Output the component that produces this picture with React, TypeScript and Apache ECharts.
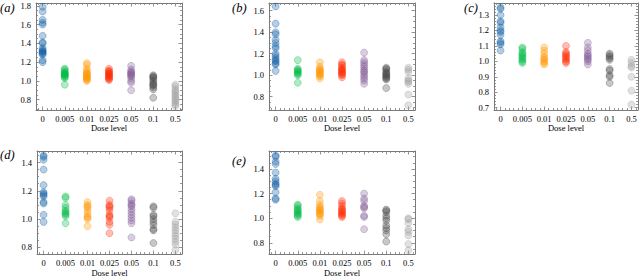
import React, { useEffect, useRef } from "react";
import * as echarts from "echarts";

const CATS = ["0", "0.005", "0.01", "0.025", "0.05", "0.1", "0.5"];
const COLORS = ["#0C5DA5", "#00B945", "#FF9500", "#FF2C00", "#845B97", "#474747", "#9e9e9e"];
const PANEL_LABELS = ["(a)", "(b)", "(c)", "(d)", "(e)"];

// panel (a)
const A0 = [1.79, 1.74, 1.65, 1.62, 1.60, 1.48, 1.41, 1.40, 1.35, 1.33, 1.32, 1.31, 1.30, 1.29, 1.28, 1.22, 1.20];
const A1 = [1.13, 1.12, 1.10, 1.09, 1.08, 1.07, 1.07, 1.06, 1.05, 1.04, 1.03, 0.96];
const A2 = [1.19, 1.17, 1.13, 1.11, 1.09, 1.08, 1.07, 1.06, 1.05, 1.04, 1.03, 1.02, 1.01, 1.00];
const A3 = [1.13, 1.11, 1.10, 1.09, 1.08, 1.07, 1.06, 1.05, 1.04, 1.03, 1.02, 1.01];
const A4 = [1.16, 1.12, 1.10, 1.09, 1.08, 1.07, 1.06, 1.05, 1.03, 1.00, 0.98, 0.90];
const A5 = [1.06, 1.05, 1.04, 1.03, 1.01, 0.99, 0.97, 0.96, 0.95, 0.93, 0.91, 0.82];
const A6 = [0.96, 0.94, 0.91, 0.89, 0.87, 0.85, 0.83, 0.81, 0.79, 0.77, 0.75, 0.73];
// panel (b)
const B0 = [1.64, 1.48, 1.40, 1.38, 1.33, 1.30, 1.27, 1.25, 1.20, 1.18, 1.16, 1.14, 1.13, 1.11, 1.10, 1.04];
const B1 = [1.14, 1.06, 1.05, 1.04, 1.03, 1.02, 1.01, 1.00, 0.93];
const B2 = [1.12, 1.08, 1.06, 1.05, 1.04, 1.03, 1.02, 1.01, 1.00, 0.99, 0.97];
const B3 = [1.12, 1.10, 1.09, 1.07, 1.06, 1.05, 1.04, 1.03, 1.02, 1.01, 1.00, 0.98];
const B4 = [1.21, 1.14, 1.12, 1.10, 1.08, 1.06, 1.04, 1.03, 1.01, 0.99, 0.97, 0.95, 0.92];
const B5 = [1.07, 1.06, 1.05, 1.03, 1.02, 1.01, 1.00, 0.99, 0.98, 0.97, 0.96, 0.88];
const B6 = [1.07, 1.05, 1.03, 0.97, 0.95, 0.94, 0.92, 0.82, 0.72];
// panel (c)
const C0 = [1.35, 1.34, 1.30, 1.26, 1.25, 1.22, 1.20, 1.19, 1.17, 1.13, 1.12, 1.11, 1.07];
const C1 = [1.09, 1.08, 1.06, 1.05, 1.04, 1.03, 1.02, 1.01, 1.00, 0.99];
const C2 = [1.09, 1.07, 1.05, 1.03, 1.02, 1.01, 1.00, 0.99, 0.98];
const C3 = [1.10, 1.06, 1.05, 1.04, 1.03, 1.02, 1.01, 1.00, 0.99];
const C4 = [1.12, 1.09, 1.07, 1.05, 1.04, 1.03, 1.02, 1.01, 1.00, 0.98];
const C5 = [1.05, 1.04, 1.03, 1.02, 1.01, 0.95, 0.94, 0.91, 0.90, 0.86];
const C6 = [1.01, 0.99, 0.97, 0.96, 0.90, 0.81, 0.72];
// panel (d)
const D0 = [1.45, 1.44, 1.42, 1.35, 1.24, 1.19, 1.18, 1.17, 1.16, 1.12, 1.11, 1.03, 0.98];
const D1 = [1.16, 1.15, 1.10, 1.08, 1.06, 1.05, 1.04, 1.03, 1.02, 0.97];
const D2 = [1.12, 1.10, 1.09, 1.08, 1.06, 1.04, 1.02, 1.01, 1.00, 0.95];
const D3 = [1.13, 1.10, 1.09, 1.08, 1.06, 1.03, 1.02, 1.01, 0.98, 0.96, 0.90];
const D4 = [1.14, 1.13, 1.11, 1.10, 1.09, 1.07, 1.05, 1.03, 1.01, 0.99, 0.97, 0.87];
const D5 = [1.09, 1.08, 1.03, 1.02, 1.00, 0.98, 0.96, 0.93, 0.92, 0.83];
const D6 = [1.04, 0.98, 0.96, 0.94, 0.92, 0.90, 0.88, 0.86, 0.84, 0.82, 0.78];
// panel (e)
const E0 = [1.51, 1.50, 1.46, 1.44, 1.37, 1.32, 1.30, 1.28, 1.27, 1.26, 1.21, 1.16, 1.15];
const E1 = [1.11, 1.10, 1.08, 1.07, 1.06, 1.05, 1.04, 1.03, 1.02, 1.01];
const E2 = [1.19, 1.14, 1.11, 1.09, 1.08, 1.07, 1.06, 1.05, 1.04, 1.03, 1.02, 0.99];
const E3 = [1.14, 1.12, 1.10, 1.08, 1.07, 1.06, 1.05, 1.04, 1.03, 1.02, 1.01];
const E4 = [1.20, 1.16, 1.14, 1.10, 1.09, 1.08, 1.02, 1.01, 0.91];
const E5 = [1.07, 1.06, 1.05, 1.02, 1.00, 0.98, 0.94, 0.92, 0.90, 0.87, 0.81];
const E6 = [1.00, 0.99, 0.96, 0.91, 0.89, 0.86, 0.79, 0.74];

const PANEL_DATA = [
  [A0, A1, A2, A3, A4, A5, A6],
  [B0, B1, B2, B3, B4, B5, B6],
  [C0, C1, C2, C3, C4, C5, C6],
  [D0, D1, D2, D3, D4, D5, D6],
  [E0, E1, E2, E3, E4, E5, E6],
];

const Y_TICKS_A = [0.8, 1.0, 1.2, 1.4, 1.6, 1.8];
const Y_TICKS_B = [0.8, 1.0, 1.2, 1.4, 1.6];
const Y_TICKS_C = [0.7, 0.8, 0.9, 1.0, 1.1, 1.2, 1.3];
const Y_TICKS_D = [0.8, 1.0, 1.2, 1.4];
const Y_TICKS_E = [0.8, 1.0, 1.2, 1.4];
const Y_TICKS = [Y_TICKS_A, Y_TICKS_B, Y_TICKS_C, Y_TICKS_D, Y_TICKS_E];
const Y_MINOR_STEP = [0.05, 0.05, 0.02, 0.05, 0.05];
const Y_RANGES = [
  [0.69, 1.83],
  [0.676, 1.672],
  [0.685, 1.378],
  [0.752, 1.4815],
  [0.708, 1.546],
];

// layout
const GRIDS = [
  { left: 36, top: 3, width: 146, height: 107 },
  { left: 269, top: 3, width: 146, height: 107 },
  { left: 494, top: 3, width: 144, height: 107 },
  { left: 37, top: 151, width: 145, height: 107 },
  { left: 269, top: 151, width: 146, height: 107 },
];
const LABEL_POS = [
  [0, 8],
  [232, 8],
  [464, 8],
  [0, 155],
  [232, 161],
];

const FONT = '"Liberation Serif", "DejaVu Serif", serif';
const FRAME = "#7a7a7a";
const X_MIN = -0.3;
const X_MAX = 6.3;

function rgba(hex: string, a: number) {
  const r = parseInt(hex.slice(1, 3), 16);
  const g = parseInt(hex.slice(3, 5), 16);
  const b = parseInt(hex.slice(5, 7), 16);
  return `rgba(${r},${g},${b},${a})`;
}

function minorValues(min: number, max: number, step: number, majors: number[]) {
  const out: number[] = [];
  const start = Math.ceil(min / step - 1e-9);
  const end = Math.floor(max / step + 1e-9);
  for (let k = start; k <= end; k++) {
    const v = +(k * step).toFixed(4);
    if (!majors.some((m) => Math.abs(m - v) < 1e-6)) out.push(v);
  }
  return out;
}

function buildOption() {
  const grid: any[] = [];
  const xAxis: any[] = [];
  const yAxis: any[] = [];
  const series: any[] = [];
  const graphic: any[] = [];
  const xMajor = CATS.map((_, i) => i);
  const xMinor = minorValues(X_MIN, X_MAX, 0.2, xMajor);

  PANEL_DATA.forEach((panel, p) => {
    grid.push({ ...GRIDS[p], containLabel: false });
    const [ymin, ymax] = Y_RANGES[p];
    const yMajor = Y_TICKS[p];
    const yMinor = minorValues(ymin, ymax, Y_MINOR_STEP[p], yMajor);

    const baseX = (position: string, ticks: number[], len: number, labels: boolean, line: boolean) => ({
      type: "value",
      gridIndex: p,
      position,
      min: X_MIN,
      max: X_MAX,
      splitLine: { show: false },
      axisLine: { show: line, onZero: false, lineStyle: { color: FRAME, width: 1 } },
      axisTick: { show: true, inside: true, length: len, customValues: ticks, lineStyle: { color: FRAME, width: 0.8 } },
      axisLabel: labels
        ? {
            show: true,
            customValues: ticks,
            margin: 4,
            fontSize: 8.5,
            fontFamily: FONT,
            color: "#000",
            formatter: (v: number) => CATS[Math.round(v)] ?? "",
          }
        : { show: false },
      ...(labels
        ? {
            name: "Dose level",
            nameLocation: "middle",
            nameGap: 13,
            nameTextStyle: { fontSize: 8.5, fontFamily: FONT, color: "#000" },
          }
        : {}),
    });
    const baseY = (position: string, ticks: number[], len: number, labels: boolean, line: boolean) => ({
      type: "value",
      gridIndex: p,
      position,
      min: ymin,
      max: ymax,
      splitLine: { show: false },
      axisLine: { show: line, onZero: false, lineStyle: { color: FRAME, width: 1 } },
      axisTick: { show: true, inside: true, length: len, customValues: ticks, lineStyle: { color: FRAME, width: 0.8 } },
      axisLabel: labels
        ? {
            show: true,
            customValues: ticks,
            margin: 5,
            fontSize: 8.5,
            fontFamily: FONT,
            color: "#000",
            formatter: (v: number) => v.toFixed(1),
          }
        : { show: false },
    });

    const xi = xAxis.length;
    xAxis.push(baseX("bottom", xMajor, 3.5, true, true));
    xAxis.push(baseX("bottom", xMinor, 2, false, false));
    xAxis.push(baseX("top", xMajor, 3.5, false, true));
    xAxis.push(baseX("top", xMinor, 2, false, false));
    const yi = yAxis.length;
    yAxis.push(baseY("left", yMajor, 3.5, true, true));
    yAxis.push(baseY("left", yMinor, 2, false, false));
    yAxis.push(baseY("right", yMajor, 3.5, false, true));
    yAxis.push(baseY("right", yMinor, 2, false, false));

    panel.forEach((vals, c) => {
      series.push({
        type: "scatter",
        xAxisIndex: xi,
        yAxisIndex: yi,
        symbol: "circle",
        symbolSize: 7,
        data: vals.map((v) => [c, v]),
        itemStyle: {
          color: rgba(COLORS[c], 0.38),
          borderColor: rgba(COLORS[c], 0.38),
          borderWidth: 1,
        },
        emphasis: { disabled: true },
        silent: true,
      });
    });

    graphic.push({
      type: "text",
      x: LABEL_POS[p][0],
      y: LABEL_POS[p][1],
      style: {
        text: PANEL_LABELS[p],
        fontSize: 12.5,
        fontStyle: "italic",
        fontFamily: FONT,
        fill: "#000",
        verticalAlign: "middle",
      },
    });
  });

  return { animation: false, backgroundColor: "#fff", grid, xAxis, yAxis, series, graphic };
}

export default function App() {
  const ref = useRef<HTMLDivElement>(null);
  useEffect(() => {
    if (!ref.current) return;
    const chart = echarts.init(ref.current, undefined, { renderer: "svg" });
    chart.setOption(buildOption() as any);
    return () => chart.dispose();
  }, []);
  return (
    <div
      ref={ref}
      style={{ position: "absolute", left: 0, top: 0, width: 640, height: 278, background: "#fff" }}
    />
  );
}
